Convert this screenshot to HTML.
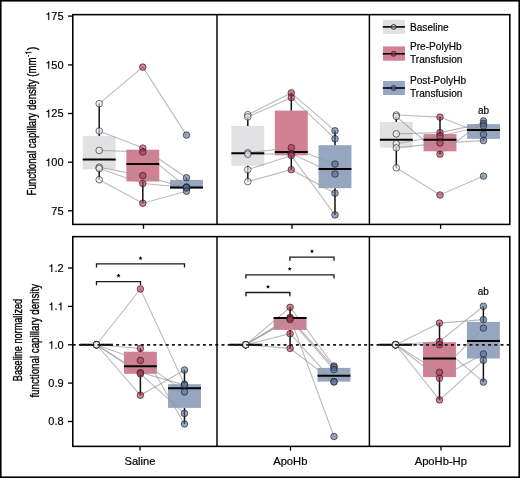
<!DOCTYPE html>
<html><head><meta charset="utf-8"><style>
html,body{margin:0;padding:0;background:#fff;width:520px;height:478px;overflow:hidden}
svg{will-change:transform}
svg text{font-family:"Liberation Sans", sans-serif;fill:#000;stroke:#000;stroke-width:0.18px}
</style></head><body>
<svg width="520" height="478" viewBox="0 0 520 478" style="position:absolute;left:0;top:0">
<rect x="0" y="0" width="520" height="478" fill="#fff"/>
<rect x="82.75" y="136.00" width="32.90" height="33.30" fill="#e1e1e3"/>
<rect x="126.35" y="149.70" width="32.90" height="31.80" fill="#d18193"/>
<rect x="170.05" y="179.90" width="32.90" height="8.70" fill="#97a6c0"/>
<polyline points="99.20,103.60 142.80,67.10 186.50,135.10" fill="none" stroke="rgba(150,150,150,0.65)" stroke-width="1.1"/>
<polyline points="99.20,131.00 142.80,148.10 186.50,177.80" fill="none" stroke="rgba(150,150,150,0.65)" stroke-width="1.1"/>
<polyline points="99.20,150.40 142.80,152.00 186.50,186.90" fill="none" stroke="rgba(150,150,150,0.65)" stroke-width="1.1"/>
<polyline points="99.20,167.20 142.80,175.60 186.50,188.00" fill="none" stroke="rgba(150,150,150,0.65)" stroke-width="1.1"/>
<polyline points="99.20,168.60 142.80,183.50 186.50,187.50" fill="none" stroke="rgba(150,150,150,0.65)" stroke-width="1.1"/>
<polyline points="99.20,179.70 142.80,203.20 186.50,191.20" fill="none" stroke="rgba(150,150,150,0.65)" stroke-width="1.1"/>
<line x1="99.20" y1="103.60" x2="99.20" y2="136.00" stroke="#111" stroke-width="1.5" />
<line x1="99.20" y1="169.30" x2="99.20" y2="179.70" stroke="#111" stroke-width="1.5" />
<line x1="142.80" y1="148.10" x2="142.80" y2="149.70" stroke="#111" stroke-width="1.5" />
<line x1="142.80" y1="181.50" x2="142.80" y2="202.70" stroke="#111" stroke-width="1.5" />
<line x1="186.50" y1="177.80" x2="186.50" y2="179.90" stroke="#111" stroke-width="1.5" />
<line x1="186.50" y1="188.60" x2="186.50" y2="191.20" stroke="#111" stroke-width="1.5" />
<rect x="231.35" y="125.90" width="32.90" height="39.90" fill="#e1e1e3"/>
<rect x="274.85" y="110.60" width="32.90" height="44.70" fill="#d18193"/>
<rect x="318.55" y="145.20" width="32.90" height="43.00" fill="#97a6c0"/>
<polyline points="247.80,114.70 291.30,92.90 335.00,130.80" fill="none" stroke="rgba(150,150,150,0.65)" stroke-width="1.1"/>
<polyline points="247.80,116.90 291.30,97.70 335.00,138.70" fill="none" stroke="rgba(150,150,150,0.65)" stroke-width="1.1"/>
<polyline points="247.80,152.80 291.30,147.70 335.00,164.10" fill="none" stroke="rgba(150,150,150,0.65)" stroke-width="1.1"/>
<polyline points="247.80,154.20 291.30,153.60 335.00,174.00" fill="none" stroke="rgba(150,150,150,0.65)" stroke-width="1.1"/>
<polyline points="247.80,169.70 291.30,155.60 335.00,214.90" fill="none" stroke="rgba(150,150,150,0.65)" stroke-width="1.1"/>
<polyline points="247.80,181.60 291.30,169.70 335.00,193.20" fill="none" stroke="rgba(150,150,150,0.65)" stroke-width="1.1"/>
<line x1="247.80" y1="114.70" x2="247.80" y2="125.90" stroke="#111" stroke-width="1.5" />
<line x1="247.80" y1="165.80" x2="247.80" y2="181.60" stroke="#111" stroke-width="1.5" />
<line x1="291.30" y1="92.90" x2="291.30" y2="110.60" stroke="#111" stroke-width="1.5" />
<line x1="291.30" y1="155.30" x2="291.30" y2="169.70" stroke="#111" stroke-width="1.5" />
<line x1="335.00" y1="130.80" x2="335.00" y2="145.20" stroke="#111" stroke-width="1.5" />
<line x1="335.00" y1="188.20" x2="335.00" y2="214.90" stroke="#111" stroke-width="1.5" />
<rect x="379.85" y="122.00" width="32.90" height="25.70" fill="#e1e1e3"/>
<rect x="423.55" y="134.10" width="32.90" height="17.20" fill="#d18193"/>
<rect x="467.05" y="124.10" width="32.90" height="14.80" fill="#97a6c0"/>
<polyline points="396.30,115.00 440.00,117.10 483.50,134.30" fill="none" stroke="rgba(150,150,150,0.65)" stroke-width="1.1"/>
<polyline points="396.30,116.50 440.00,154.20 483.50,120.90" fill="none" stroke="rgba(150,150,150,0.65)" stroke-width="1.1"/>
<polyline points="396.30,133.90 440.00,132.60 483.50,123.40" fill="none" stroke="rgba(150,150,150,0.65)" stroke-width="1.1"/>
<polyline points="396.30,143.70 440.00,136.00 483.50,126.00" fill="none" stroke="rgba(150,150,150,0.65)" stroke-width="1.1"/>
<polyline points="396.30,147.90 440.00,143.10 483.50,140.60" fill="none" stroke="rgba(150,150,150,0.65)" stroke-width="1.1"/>
<polyline points="396.30,167.80 440.00,195.00 483.50,176.10" fill="none" stroke="rgba(150,150,150,0.65)" stroke-width="1.1"/>
<line x1="396.30" y1="115.00" x2="396.30" y2="122.00" stroke="#111" stroke-width="1.5" />
<line x1="396.30" y1="147.70" x2="396.30" y2="167.80" stroke="#111" stroke-width="1.5" />
<line x1="440.00" y1="117.10" x2="440.00" y2="134.10" stroke="#111" stroke-width="1.5" />
<line x1="440.00" y1="151.30" x2="440.00" y2="154.40" stroke="#111" stroke-width="1.5" />
<line x1="483.50" y1="120.90" x2="483.50" y2="124.10" stroke="#111" stroke-width="1.5" />
<line x1="483.50" y1="138.90" x2="483.50" y2="140.60" stroke="#111" stroke-width="1.5" />
<rect x="123.95" y="351.70" width="32.90" height="22.10" fill="#d18193"/>
<rect x="168.05" y="384.20" width="32.90" height="23.70" fill="#97a6c0"/>
<polyline points="96.50,344.75 140.40,289.00 184.50,384.20" fill="none" stroke="rgba(150,150,150,0.65)" stroke-width="1.1"/>
<polyline points="96.50,344.75 140.40,348.40 184.50,424.00" fill="none" stroke="rgba(150,150,150,0.65)" stroke-width="1.1"/>
<polyline points="96.50,344.75 140.40,360.40 184.50,391.90" fill="none" stroke="rgba(150,150,150,0.65)" stroke-width="1.1"/>
<polyline points="96.50,344.75 140.40,372.60 184.50,384.90" fill="none" stroke="rgba(150,150,150,0.65)" stroke-width="1.1"/>
<polyline points="96.50,344.75 140.40,373.80 184.50,413.40" fill="none" stroke="rgba(150,150,150,0.65)" stroke-width="1.1"/>
<polyline points="96.50,344.75 140.40,395.20 184.50,370.00" fill="none" stroke="rgba(150,150,150,0.65)" stroke-width="1.1"/>
<line x1="140.40" y1="348.40" x2="140.40" y2="351.70" stroke="#111" stroke-width="1.5" />
<line x1="140.40" y1="373.80" x2="140.40" y2="395.20" stroke="#111" stroke-width="1.5" />
<line x1="184.50" y1="370.00" x2="184.50" y2="384.20" stroke="#111" stroke-width="1.5" />
<line x1="184.50" y1="407.90" x2="184.50" y2="424.00" stroke="#111" stroke-width="1.5" />
<rect x="273.65" y="317.60" width="32.90" height="12.30" fill="#d18193"/>
<rect x="317.55" y="367.90" width="32.90" height="13.70" fill="#97a6c0"/>
<polyline points="245.80,344.75 290.10,307.30 334.00,366.00" fill="none" stroke="rgba(150,150,150,0.65)" stroke-width="1.1"/>
<polyline points="245.80,344.75 290.10,317.40 334.00,436.50" fill="none" stroke="rgba(150,150,150,0.65)" stroke-width="1.1"/>
<polyline points="245.80,344.75 290.10,318.20 334.00,367.30" fill="none" stroke="rgba(150,150,150,0.65)" stroke-width="1.1"/>
<polyline points="245.80,344.75 290.10,319.50 334.00,369.70" fill="none" stroke="rgba(150,150,150,0.65)" stroke-width="1.1"/>
<polyline points="245.80,344.75 290.10,333.70 334.00,381.60" fill="none" stroke="rgba(150,150,150,0.65)" stroke-width="1.1"/>
<polyline points="245.80,344.75 290.10,348.40 334.00,382.00" fill="none" stroke="rgba(150,150,150,0.65)" stroke-width="1.1"/>
<line x1="290.10" y1="307.30" x2="290.10" y2="317.60" stroke="#111" stroke-width="1.5" />
<line x1="290.10" y1="329.90" x2="290.10" y2="348.40" stroke="#111" stroke-width="1.5" />
<line x1="334.00" y1="366.00" x2="334.00" y2="367.90" stroke="#111" stroke-width="1.5" />
<rect x="423.05" y="342.20" width="32.90" height="34.90" fill="#d18193"/>
<rect x="466.95" y="321.90" width="32.90" height="36.60" fill="#97a6c0"/>
<polyline points="395.60,344.75 439.50,323.10 483.40,319.60" fill="none" stroke="rgba(150,150,150,0.65)" stroke-width="1.1"/>
<polyline points="395.60,344.75 439.50,341.50 483.40,306.30" fill="none" stroke="rgba(150,150,150,0.65)" stroke-width="1.1"/>
<polyline points="395.60,344.75 439.50,344.60 483.40,382.10" fill="none" stroke="rgba(150,150,150,0.65)" stroke-width="1.1"/>
<polyline points="395.60,344.75 439.50,372.30 483.40,328.10" fill="none" stroke="rgba(150,150,150,0.65)" stroke-width="1.1"/>
<polyline points="395.60,344.75 439.50,378.30 483.40,354.00" fill="none" stroke="rgba(150,150,150,0.65)" stroke-width="1.1"/>
<polyline points="395.60,344.75 439.50,399.90 483.40,360.30" fill="none" stroke="rgba(150,150,150,0.65)" stroke-width="1.1"/>
<line x1="439.50" y1="323.10" x2="439.50" y2="342.20" stroke="#111" stroke-width="1.5" />
<line x1="439.50" y1="377.10" x2="439.50" y2="399.90" stroke="#111" stroke-width="1.5" />
<line x1="483.40" y1="306.30" x2="483.40" y2="321.90" stroke="#111" stroke-width="1.5" />
<line x1="483.40" y1="358.50" x2="483.40" y2="382.10" stroke="#111" stroke-width="1.5" />
<line x1="82.75" y1="159.40" x2="115.65" y2="159.40" stroke="#000" stroke-width="2.0" />
<line x1="126.35" y1="164.10" x2="159.25" y2="164.10" stroke="#000" stroke-width="2.0" />
<line x1="170.05" y1="187.40" x2="202.95" y2="187.40" stroke="#000" stroke-width="2.0" />
<line x1="231.35" y1="153.30" x2="264.25" y2="153.30" stroke="#000" stroke-width="2.0" />
<line x1="274.85" y1="152.10" x2="307.75" y2="152.10" stroke="#000" stroke-width="2.0" />
<line x1="318.55" y1="168.90" x2="351.45" y2="168.90" stroke="#000" stroke-width="2.0" />
<line x1="379.85" y1="139.70" x2="412.75" y2="139.70" stroke="#000" stroke-width="2.0" />
<line x1="423.55" y1="139.70" x2="456.45" y2="139.70" stroke="#000" stroke-width="2.0" />
<line x1="467.05" y1="130.10" x2="499.95" y2="130.10" stroke="#000" stroke-width="2.0" />
<line x1="80.05" y1="344.75" x2="112.95" y2="344.75" stroke="#000" stroke-width="2.0" />
<line x1="123.95" y1="366.30" x2="156.85" y2="366.30" stroke="#000" stroke-width="2.0" />
<line x1="168.05" y1="388.20" x2="200.95" y2="388.20" stroke="#000" stroke-width="2.0" />
<line x1="229.35" y1="344.75" x2="262.25" y2="344.75" stroke="#000" stroke-width="2.0" />
<line x1="273.65" y1="318.00" x2="306.55" y2="318.00" stroke="#000" stroke-width="2.0" />
<line x1="317.55" y1="375.80" x2="350.45" y2="375.80" stroke="#000" stroke-width="2.0" />
<line x1="379.15" y1="344.75" x2="412.05" y2="344.75" stroke="#000" stroke-width="2.0" />
<line x1="423.05" y1="358.50" x2="455.95" y2="358.50" stroke="#000" stroke-width="2.0" />
<line x1="466.95" y1="340.90" x2="499.85" y2="340.90" stroke="#000" stroke-width="2.0" />
<circle cx="99.20" cy="103.60" r="3.3" fill="rgba(238,238,238,0.6)" stroke="rgba(20,20,20,0.6)" stroke-width="1.0"/>
<circle cx="142.80" cy="67.10" r="3.3" fill="rgba(178,45,75,0.6)" stroke="rgba(20,20,20,0.6)" stroke-width="1.0"/>
<circle cx="186.50" cy="135.10" r="3.3" fill="rgba(82,107,152,0.6)" stroke="rgba(20,20,20,0.6)" stroke-width="1.0"/>
<circle cx="99.20" cy="131.00" r="3.3" fill="rgba(238,238,238,0.6)" stroke="rgba(20,20,20,0.6)" stroke-width="1.0"/>
<circle cx="142.80" cy="148.10" r="3.3" fill="rgba(178,45,75,0.6)" stroke="rgba(20,20,20,0.6)" stroke-width="1.0"/>
<circle cx="186.50" cy="177.80" r="3.3" fill="rgba(82,107,152,0.6)" stroke="rgba(20,20,20,0.6)" stroke-width="1.0"/>
<circle cx="99.20" cy="150.40" r="3.3" fill="rgba(238,238,238,0.6)" stroke="rgba(20,20,20,0.6)" stroke-width="1.0"/>
<circle cx="142.80" cy="152.00" r="3.3" fill="rgba(178,45,75,0.6)" stroke="rgba(20,20,20,0.6)" stroke-width="1.0"/>
<circle cx="186.50" cy="186.90" r="3.3" fill="rgba(82,107,152,0.6)" stroke="rgba(20,20,20,0.6)" stroke-width="1.0"/>
<circle cx="99.20" cy="167.20" r="3.3" fill="rgba(238,238,238,0.6)" stroke="rgba(20,20,20,0.6)" stroke-width="1.0"/>
<circle cx="142.80" cy="175.60" r="3.3" fill="rgba(178,45,75,0.6)" stroke="rgba(20,20,20,0.6)" stroke-width="1.0"/>
<circle cx="186.50" cy="188.00" r="3.3" fill="rgba(82,107,152,0.6)" stroke="rgba(20,20,20,0.6)" stroke-width="1.0"/>
<circle cx="99.20" cy="168.60" r="3.3" fill="rgba(238,238,238,0.6)" stroke="rgba(20,20,20,0.6)" stroke-width="1.0"/>
<circle cx="142.80" cy="183.50" r="3.3" fill="rgba(178,45,75,0.6)" stroke="rgba(20,20,20,0.6)" stroke-width="1.0"/>
<circle cx="186.50" cy="187.50" r="3.3" fill="rgba(82,107,152,0.6)" stroke="rgba(20,20,20,0.6)" stroke-width="1.0"/>
<circle cx="99.20" cy="179.70" r="3.3" fill="rgba(238,238,238,0.6)" stroke="rgba(20,20,20,0.6)" stroke-width="1.0"/>
<circle cx="142.80" cy="203.20" r="3.3" fill="rgba(178,45,75,0.6)" stroke="rgba(20,20,20,0.6)" stroke-width="1.0"/>
<circle cx="186.50" cy="191.20" r="3.3" fill="rgba(82,107,152,0.6)" stroke="rgba(20,20,20,0.6)" stroke-width="1.0"/>
<circle cx="247.80" cy="114.70" r="3.3" fill="rgba(238,238,238,0.6)" stroke="rgba(20,20,20,0.6)" stroke-width="1.0"/>
<circle cx="291.30" cy="92.90" r="3.3" fill="rgba(178,45,75,0.6)" stroke="rgba(20,20,20,0.6)" stroke-width="1.0"/>
<circle cx="335.00" cy="130.80" r="3.3" fill="rgba(82,107,152,0.6)" stroke="rgba(20,20,20,0.6)" stroke-width="1.0"/>
<circle cx="247.80" cy="116.90" r="3.3" fill="rgba(238,238,238,0.6)" stroke="rgba(20,20,20,0.6)" stroke-width="1.0"/>
<circle cx="291.30" cy="97.70" r="3.3" fill="rgba(178,45,75,0.6)" stroke="rgba(20,20,20,0.6)" stroke-width="1.0"/>
<circle cx="335.00" cy="138.70" r="3.3" fill="rgba(82,107,152,0.6)" stroke="rgba(20,20,20,0.6)" stroke-width="1.0"/>
<circle cx="247.80" cy="152.80" r="3.3" fill="rgba(238,238,238,0.6)" stroke="rgba(20,20,20,0.6)" stroke-width="1.0"/>
<circle cx="291.30" cy="147.70" r="3.3" fill="rgba(178,45,75,0.6)" stroke="rgba(20,20,20,0.6)" stroke-width="1.0"/>
<circle cx="335.00" cy="164.10" r="3.3" fill="rgba(82,107,152,0.6)" stroke="rgba(20,20,20,0.6)" stroke-width="1.0"/>
<circle cx="247.80" cy="154.20" r="3.3" fill="rgba(238,238,238,0.6)" stroke="rgba(20,20,20,0.6)" stroke-width="1.0"/>
<circle cx="291.30" cy="153.60" r="3.3" fill="rgba(178,45,75,0.6)" stroke="rgba(20,20,20,0.6)" stroke-width="1.0"/>
<circle cx="335.00" cy="174.00" r="3.3" fill="rgba(82,107,152,0.6)" stroke="rgba(20,20,20,0.6)" stroke-width="1.0"/>
<circle cx="247.80" cy="169.70" r="3.3" fill="rgba(238,238,238,0.6)" stroke="rgba(20,20,20,0.6)" stroke-width="1.0"/>
<circle cx="291.30" cy="155.60" r="3.3" fill="rgba(178,45,75,0.6)" stroke="rgba(20,20,20,0.6)" stroke-width="1.0"/>
<circle cx="335.00" cy="214.90" r="3.3" fill="rgba(82,107,152,0.6)" stroke="rgba(20,20,20,0.6)" stroke-width="1.0"/>
<circle cx="247.80" cy="181.60" r="3.3" fill="rgba(238,238,238,0.6)" stroke="rgba(20,20,20,0.6)" stroke-width="1.0"/>
<circle cx="291.30" cy="169.70" r="3.3" fill="rgba(178,45,75,0.6)" stroke="rgba(20,20,20,0.6)" stroke-width="1.0"/>
<circle cx="335.00" cy="193.20" r="3.3" fill="rgba(82,107,152,0.6)" stroke="rgba(20,20,20,0.6)" stroke-width="1.0"/>
<circle cx="396.30" cy="115.00" r="3.3" fill="rgba(238,238,238,0.6)" stroke="rgba(20,20,20,0.6)" stroke-width="1.0"/>
<circle cx="440.00" cy="117.10" r="3.3" fill="rgba(178,45,75,0.6)" stroke="rgba(20,20,20,0.6)" stroke-width="1.0"/>
<circle cx="483.50" cy="134.30" r="3.3" fill="rgba(82,107,152,0.6)" stroke="rgba(20,20,20,0.6)" stroke-width="1.0"/>
<circle cx="396.30" cy="116.50" r="3.3" fill="rgba(238,238,238,0.6)" stroke="rgba(20,20,20,0.6)" stroke-width="1.0"/>
<circle cx="440.00" cy="154.20" r="3.3" fill="rgba(178,45,75,0.6)" stroke="rgba(20,20,20,0.6)" stroke-width="1.0"/>
<circle cx="483.50" cy="120.90" r="3.3" fill="rgba(82,107,152,0.6)" stroke="rgba(20,20,20,0.6)" stroke-width="1.0"/>
<circle cx="396.30" cy="133.90" r="3.3" fill="rgba(238,238,238,0.6)" stroke="rgba(20,20,20,0.6)" stroke-width="1.0"/>
<circle cx="440.00" cy="132.60" r="3.3" fill="rgba(178,45,75,0.6)" stroke="rgba(20,20,20,0.6)" stroke-width="1.0"/>
<circle cx="483.50" cy="123.40" r="3.3" fill="rgba(82,107,152,0.6)" stroke="rgba(20,20,20,0.6)" stroke-width="1.0"/>
<circle cx="396.30" cy="143.70" r="3.3" fill="rgba(238,238,238,0.6)" stroke="rgba(20,20,20,0.6)" stroke-width="1.0"/>
<circle cx="440.00" cy="136.00" r="3.3" fill="rgba(178,45,75,0.6)" stroke="rgba(20,20,20,0.6)" stroke-width="1.0"/>
<circle cx="483.50" cy="126.00" r="3.3" fill="rgba(82,107,152,0.6)" stroke="rgba(20,20,20,0.6)" stroke-width="1.0"/>
<circle cx="396.30" cy="147.90" r="3.3" fill="rgba(238,238,238,0.6)" stroke="rgba(20,20,20,0.6)" stroke-width="1.0"/>
<circle cx="440.00" cy="143.10" r="3.3" fill="rgba(178,45,75,0.6)" stroke="rgba(20,20,20,0.6)" stroke-width="1.0"/>
<circle cx="483.50" cy="140.60" r="3.3" fill="rgba(82,107,152,0.6)" stroke="rgba(20,20,20,0.6)" stroke-width="1.0"/>
<circle cx="396.30" cy="167.80" r="3.3" fill="rgba(238,238,238,0.6)" stroke="rgba(20,20,20,0.6)" stroke-width="1.0"/>
<circle cx="440.00" cy="195.00" r="3.3" fill="rgba(178,45,75,0.6)" stroke="rgba(20,20,20,0.6)" stroke-width="1.0"/>
<circle cx="483.50" cy="176.10" r="3.3" fill="rgba(82,107,152,0.6)" stroke="rgba(20,20,20,0.6)" stroke-width="1.0"/>
<circle cx="96.50" cy="344.75" r="3.3" fill="rgba(238,238,238,0.6)" stroke="rgba(20,20,20,0.6)" stroke-width="1.0"/>
<circle cx="140.40" cy="289.00" r="3.3" fill="rgba(178,45,75,0.6)" stroke="rgba(20,20,20,0.6)" stroke-width="1.0"/>
<circle cx="184.50" cy="384.20" r="3.3" fill="rgba(82,107,152,0.6)" stroke="rgba(20,20,20,0.6)" stroke-width="1.0"/>
<circle cx="96.50" cy="344.75" r="3.3" fill="rgba(238,238,238,0.6)" stroke="rgba(20,20,20,0.6)" stroke-width="1.0"/>
<circle cx="140.40" cy="348.40" r="3.3" fill="rgba(178,45,75,0.6)" stroke="rgba(20,20,20,0.6)" stroke-width="1.0"/>
<circle cx="184.50" cy="424.00" r="3.3" fill="rgba(82,107,152,0.6)" stroke="rgba(20,20,20,0.6)" stroke-width="1.0"/>
<circle cx="96.50" cy="344.75" r="3.3" fill="rgba(238,238,238,0.6)" stroke="rgba(20,20,20,0.6)" stroke-width="1.0"/>
<circle cx="140.40" cy="360.40" r="3.3" fill="rgba(178,45,75,0.6)" stroke="rgba(20,20,20,0.6)" stroke-width="1.0"/>
<circle cx="184.50" cy="391.90" r="3.3" fill="rgba(82,107,152,0.6)" stroke="rgba(20,20,20,0.6)" stroke-width="1.0"/>
<circle cx="96.50" cy="344.75" r="3.3" fill="rgba(238,238,238,0.6)" stroke="rgba(20,20,20,0.6)" stroke-width="1.0"/>
<circle cx="140.40" cy="372.60" r="3.3" fill="rgba(178,45,75,0.6)" stroke="rgba(20,20,20,0.6)" stroke-width="1.0"/>
<circle cx="184.50" cy="384.90" r="3.3" fill="rgba(82,107,152,0.6)" stroke="rgba(20,20,20,0.6)" stroke-width="1.0"/>
<circle cx="96.50" cy="344.75" r="3.3" fill="rgba(238,238,238,0.6)" stroke="rgba(20,20,20,0.6)" stroke-width="1.0"/>
<circle cx="140.40" cy="373.80" r="3.3" fill="rgba(178,45,75,0.6)" stroke="rgba(20,20,20,0.6)" stroke-width="1.0"/>
<circle cx="184.50" cy="413.40" r="3.3" fill="rgba(82,107,152,0.6)" stroke="rgba(20,20,20,0.6)" stroke-width="1.0"/>
<circle cx="96.50" cy="344.75" r="3.3" fill="rgba(238,238,238,0.6)" stroke="rgba(20,20,20,0.6)" stroke-width="1.0"/>
<circle cx="140.40" cy="395.20" r="3.3" fill="rgba(178,45,75,0.6)" stroke="rgba(20,20,20,0.6)" stroke-width="1.0"/>
<circle cx="184.50" cy="370.00" r="3.3" fill="rgba(82,107,152,0.6)" stroke="rgba(20,20,20,0.6)" stroke-width="1.0"/>
<circle cx="245.80" cy="344.75" r="3.3" fill="rgba(238,238,238,0.6)" stroke="rgba(20,20,20,0.6)" stroke-width="1.0"/>
<circle cx="290.10" cy="307.30" r="3.3" fill="rgba(178,45,75,0.6)" stroke="rgba(20,20,20,0.6)" stroke-width="1.0"/>
<circle cx="334.00" cy="366.00" r="3.3" fill="rgba(82,107,152,0.6)" stroke="rgba(20,20,20,0.6)" stroke-width="1.0"/>
<circle cx="245.80" cy="344.75" r="3.3" fill="rgba(238,238,238,0.6)" stroke="rgba(20,20,20,0.6)" stroke-width="1.0"/>
<circle cx="290.10" cy="317.40" r="3.3" fill="rgba(178,45,75,0.6)" stroke="rgba(20,20,20,0.6)" stroke-width="1.0"/>
<circle cx="334.00" cy="436.50" r="3.3" fill="rgba(82,107,152,0.6)" stroke="rgba(20,20,20,0.6)" stroke-width="1.0"/>
<circle cx="245.80" cy="344.75" r="3.3" fill="rgba(238,238,238,0.6)" stroke="rgba(20,20,20,0.6)" stroke-width="1.0"/>
<circle cx="290.10" cy="318.20" r="3.3" fill="rgba(178,45,75,0.6)" stroke="rgba(20,20,20,0.6)" stroke-width="1.0"/>
<circle cx="334.00" cy="367.30" r="3.3" fill="rgba(82,107,152,0.6)" stroke="rgba(20,20,20,0.6)" stroke-width="1.0"/>
<circle cx="245.80" cy="344.75" r="3.3" fill="rgba(238,238,238,0.6)" stroke="rgba(20,20,20,0.6)" stroke-width="1.0"/>
<circle cx="290.10" cy="319.50" r="3.3" fill="rgba(178,45,75,0.6)" stroke="rgba(20,20,20,0.6)" stroke-width="1.0"/>
<circle cx="334.00" cy="369.70" r="3.3" fill="rgba(82,107,152,0.6)" stroke="rgba(20,20,20,0.6)" stroke-width="1.0"/>
<circle cx="245.80" cy="344.75" r="3.3" fill="rgba(238,238,238,0.6)" stroke="rgba(20,20,20,0.6)" stroke-width="1.0"/>
<circle cx="290.10" cy="333.70" r="3.3" fill="rgba(178,45,75,0.6)" stroke="rgba(20,20,20,0.6)" stroke-width="1.0"/>
<circle cx="334.00" cy="381.60" r="3.3" fill="rgba(82,107,152,0.6)" stroke="rgba(20,20,20,0.6)" stroke-width="1.0"/>
<circle cx="245.80" cy="344.75" r="3.3" fill="rgba(238,238,238,0.6)" stroke="rgba(20,20,20,0.6)" stroke-width="1.0"/>
<circle cx="290.10" cy="348.40" r="3.3" fill="rgba(178,45,75,0.6)" stroke="rgba(20,20,20,0.6)" stroke-width="1.0"/>
<circle cx="334.00" cy="382.00" r="3.3" fill="rgba(82,107,152,0.6)" stroke="rgba(20,20,20,0.6)" stroke-width="1.0"/>
<circle cx="395.60" cy="344.75" r="3.3" fill="rgba(238,238,238,0.6)" stroke="rgba(20,20,20,0.6)" stroke-width="1.0"/>
<circle cx="439.50" cy="323.10" r="3.3" fill="rgba(178,45,75,0.6)" stroke="rgba(20,20,20,0.6)" stroke-width="1.0"/>
<circle cx="483.40" cy="319.60" r="3.3" fill="rgba(82,107,152,0.6)" stroke="rgba(20,20,20,0.6)" stroke-width="1.0"/>
<circle cx="395.60" cy="344.75" r="3.3" fill="rgba(238,238,238,0.6)" stroke="rgba(20,20,20,0.6)" stroke-width="1.0"/>
<circle cx="439.50" cy="341.50" r="3.3" fill="rgba(178,45,75,0.6)" stroke="rgba(20,20,20,0.6)" stroke-width="1.0"/>
<circle cx="483.40" cy="306.30" r="3.3" fill="rgba(82,107,152,0.6)" stroke="rgba(20,20,20,0.6)" stroke-width="1.0"/>
<circle cx="395.60" cy="344.75" r="3.3" fill="rgba(238,238,238,0.6)" stroke="rgba(20,20,20,0.6)" stroke-width="1.0"/>
<circle cx="439.50" cy="344.60" r="3.3" fill="rgba(178,45,75,0.6)" stroke="rgba(20,20,20,0.6)" stroke-width="1.0"/>
<circle cx="483.40" cy="382.10" r="3.3" fill="rgba(82,107,152,0.6)" stroke="rgba(20,20,20,0.6)" stroke-width="1.0"/>
<circle cx="395.60" cy="344.75" r="3.3" fill="rgba(238,238,238,0.6)" stroke="rgba(20,20,20,0.6)" stroke-width="1.0"/>
<circle cx="439.50" cy="372.30" r="3.3" fill="rgba(178,45,75,0.6)" stroke="rgba(20,20,20,0.6)" stroke-width="1.0"/>
<circle cx="483.40" cy="328.10" r="3.3" fill="rgba(82,107,152,0.6)" stroke="rgba(20,20,20,0.6)" stroke-width="1.0"/>
<circle cx="395.60" cy="344.75" r="3.3" fill="rgba(238,238,238,0.6)" stroke="rgba(20,20,20,0.6)" stroke-width="1.0"/>
<circle cx="439.50" cy="378.30" r="3.3" fill="rgba(178,45,75,0.6)" stroke="rgba(20,20,20,0.6)" stroke-width="1.0"/>
<circle cx="483.40" cy="354.00" r="3.3" fill="rgba(82,107,152,0.6)" stroke="rgba(20,20,20,0.6)" stroke-width="1.0"/>
<circle cx="395.60" cy="344.75" r="3.3" fill="rgba(238,238,238,0.6)" stroke="rgba(20,20,20,0.6)" stroke-width="1.0"/>
<circle cx="439.50" cy="399.90" r="3.3" fill="rgba(178,45,75,0.6)" stroke="rgba(20,20,20,0.6)" stroke-width="1.0"/>
<circle cx="483.40" cy="360.30" r="3.3" fill="rgba(82,107,152,0.6)" stroke="rgba(20,20,20,0.6)" stroke-width="1.0"/>
<line x1="72.78" y1="344.95" x2="509.80" y2="344.95" stroke="#1a1a1a" stroke-width="1.7" stroke-dasharray="3 3.2" stroke-dashoffset="0.08"/>
<rect x="72.78" y="14.64" width="437.02" height="209.76" fill="none" stroke="#000" stroke-width="1.55"/>
<rect x="72.78" y="236.65" width="437.02" height="209.72" fill="none" stroke="#000" stroke-width="1.55"/>
<line x1="217.00" y1="14.64" x2="217.00" y2="224.40" stroke="#000" stroke-width="1.46" />
<line x1="369.40" y1="14.64" x2="369.40" y2="224.40" stroke="#000" stroke-width="1.46" />
<line x1="217.00" y1="236.65" x2="217.00" y2="446.37" stroke="#000" stroke-width="1.46" />
<line x1="369.40" y1="236.65" x2="369.40" y2="446.37" stroke="#000" stroke-width="1.46" />
<line x1="68.00" y1="16.10" x2="72.78" y2="16.10" stroke="#000" stroke-width="1.3" />
<path d="M359,703 L294,703 C282,640 240,566 101,560 L101,500 L275,500 L275,0 L359,0 Z" transform="translate(45.25,20.05) scale(0.0110,-0.0110)" fill="#000" stroke="#000" stroke-width="16.4"/>
<text x="51.36" y="20.05" font-size="11" text-anchor="start" >7</text>
<text x="57.48" y="20.05" font-size="11" text-anchor="start" >5</text>
<line x1="68.00" y1="64.90" x2="72.78" y2="64.90" stroke="#000" stroke-width="1.3" />
<path d="M359,703 L294,703 C282,640 240,566 101,560 L101,500 L275,500 L275,0 L359,0 Z" transform="translate(45.25,68.85) scale(0.0110,-0.0110)" fill="#000" stroke="#000" stroke-width="16.4"/>
<text x="51.36" y="68.85" font-size="11" text-anchor="start" >5</text>
<text x="57.48" y="68.85" font-size="11" text-anchor="start" >0</text>
<line x1="68.00" y1="113.50" x2="72.78" y2="113.50" stroke="#000" stroke-width="1.3" />
<path d="M359,703 L294,703 C282,640 240,566 101,560 L101,500 L275,500 L275,0 L359,0 Z" transform="translate(45.25,117.45) scale(0.0110,-0.0110)" fill="#000" stroke="#000" stroke-width="16.4"/>
<text x="51.36" y="117.45" font-size="11" text-anchor="start" >2</text>
<text x="57.48" y="117.45" font-size="11" text-anchor="start" >5</text>
<line x1="68.00" y1="162.20" x2="72.78" y2="162.20" stroke="#000" stroke-width="1.3" />
<path d="M359,703 L294,703 C282,640 240,566 101,560 L101,500 L275,500 L275,0 L359,0 Z" transform="translate(45.25,166.15) scale(0.0110,-0.0110)" fill="#000" stroke="#000" stroke-width="16.4"/>
<text x="51.36" y="166.15" font-size="11" text-anchor="start" >0</text>
<text x="57.48" y="166.15" font-size="11" text-anchor="start" >0</text>
<line x1="68.00" y1="210.80" x2="72.78" y2="210.80" stroke="#000" stroke-width="1.3" />
<text x="51.36" y="214.75" font-size="11" text-anchor="start" >7</text>
<text x="57.48" y="214.75" font-size="11" text-anchor="start" >5</text>
<line x1="68.00" y1="268.00" x2="72.78" y2="268.00" stroke="#000" stroke-width="1.3" />
<path d="M359,703 L294,703 C282,640 240,566 101,560 L101,500 L275,500 L275,0 L359,0 Z" transform="translate(48.31,271.95) scale(0.0110,-0.0110)" fill="#000" stroke="#000" stroke-width="16.4"/>
<text x="54.43" y="271.95" font-size="11" text-anchor="start" >.</text>
<text x="57.48" y="271.95" font-size="11" text-anchor="start" >2</text>
<line x1="68.00" y1="306.40" x2="72.78" y2="306.40" stroke="#000" stroke-width="1.3" />
<path d="M359,703 L294,703 C282,640 240,566 101,560 L101,500 L275,500 L275,0 L359,0 Z" transform="translate(48.31,310.35) scale(0.0110,-0.0110)" fill="#000" stroke="#000" stroke-width="16.4"/>
<text x="54.43" y="310.35" font-size="11" text-anchor="start" >.</text>
<path d="M359,703 L294,703 C282,640 240,566 101,560 L101,500 L275,500 L275,0 L359,0 Z" transform="translate(57.48,310.35) scale(0.0110,-0.0110)" fill="#000" stroke="#000" stroke-width="16.4"/>
<line x1="68.00" y1="344.80" x2="72.78" y2="344.80" stroke="#000" stroke-width="1.3" />
<path d="M359,703 L294,703 C282,640 240,566 101,560 L101,500 L275,500 L275,0 L359,0 Z" transform="translate(48.31,348.75) scale(0.0110,-0.0110)" fill="#000" stroke="#000" stroke-width="16.4"/>
<text x="54.43" y="348.75" font-size="11" text-anchor="start" >.</text>
<text x="57.48" y="348.75" font-size="11" text-anchor="start" >0</text>
<line x1="68.00" y1="383.10" x2="72.78" y2="383.10" stroke="#000" stroke-width="1.3" />
<text x="48.31" y="387.05" font-size="11" text-anchor="start" >0</text>
<text x="54.43" y="387.05" font-size="11" text-anchor="start" >.</text>
<text x="57.48" y="387.05" font-size="11" text-anchor="start" >9</text>
<line x1="68.00" y1="421.50" x2="72.78" y2="421.50" stroke="#000" stroke-width="1.3" />
<text x="48.31" y="425.45" font-size="11" text-anchor="start" >0</text>
<text x="54.43" y="425.45" font-size="11" text-anchor="start" >.</text>
<text x="57.48" y="425.45" font-size="11" text-anchor="start" >8</text>
<line x1="143.50" y1="224.40" x2="143.50" y2="228.80" stroke="#000" stroke-width="1.3" />
<line x1="292.00" y1="224.40" x2="292.00" y2="228.80" stroke="#000" stroke-width="1.3" />
<line x1="440.60" y1="224.40" x2="440.60" y2="228.80" stroke="#000" stroke-width="1.3" />
<line x1="140.00" y1="446.37" x2="140.00" y2="450.60" stroke="#000" stroke-width="1.3" />
<line x1="290.50" y1="446.37" x2="290.50" y2="450.60" stroke="#000" stroke-width="1.3" />
<line x1="441.00" y1="446.37" x2="441.00" y2="450.60" stroke="#000" stroke-width="1.3" />
<text x="140.00" y="465.00" font-size="11.2" text-anchor="middle" >Saline</text>
<text x="290.30" y="465.00" font-size="11.2" text-anchor="middle" >ApoHb</text>
<text x="440.80" y="465.00" font-size="11.2" text-anchor="middle" >ApoHb-Hp</text>
<g transform="translate(35.7,195.5) rotate(-90)" stroke="#000" stroke-width="0.35"><text x="0" y="0" font-size="13.0" style="stroke-width:0.35px" textLength="138" lengthAdjust="spacingAndGlyphs">Functional capillary density (mm</text><g transform="translate(138.6,-4.4) scale(0.8,1)"><text x="0" y="0" font-size="8.5">-</text><path d="M359,703 L294,703 C282,640 240,566 101,560 L101,500 L275,500 L275,0 L359,0 Z" transform="translate(2.83,0) scale(0.0085,-0.0085)" fill="#000" stroke="#000" stroke-width="50"/></g><text x="145.3" y="0" font-size="13.0" style="stroke-width:0.35px" textLength="3.6" lengthAdjust="spacingAndGlyphs">)</text></g>
<g transform="translate(22.1,381.2) rotate(-90)" stroke="#000" stroke-width="0.35"><text x="0" y="0" font-size="13.0" style="stroke-width:0.35px" textLength="82.4" lengthAdjust="spacingAndGlyphs">Baseline normalized</text></g>
<g transform="translate(39.4,397.6) rotate(-90)" stroke="#000" stroke-width="0.35"><text x="0" y="0" font-size="13.0" style="stroke-width:0.35px" textLength="113.7" lengthAdjust="spacingAndGlyphs">functional capillary density</text></g>
<polyline points="96.50,267.40 96.50,263.90 184.50,263.90 184.50,267.40" fill="none" stroke="#1a1a1a" stroke-width="1.35"/>
<polygon points="140.50,256.00 141.06,257.43 142.59,257.52 141.40,258.49 141.79,259.98 140.50,259.15 139.21,259.98 139.60,258.49 138.41,257.52 139.94,257.43" fill="#000"/>
<polyline points="96.50,285.30 96.50,281.60 140.50,281.60 140.50,285.30" fill="none" stroke="#1a1a1a" stroke-width="1.35"/>
<polygon points="118.50,273.40 119.06,274.83 120.59,274.92 119.40,275.89 119.79,277.38 118.50,276.55 117.21,277.38 117.60,275.89 116.41,274.92 117.94,274.83" fill="#000"/>
<polyline points="289.90,260.80 289.90,257.10 334.00,257.10 334.00,260.80" fill="none" stroke="#1a1a1a" stroke-width="1.35"/>
<polygon points="312.00,249.00 312.56,250.43 314.09,250.52 312.90,251.49 313.29,252.98 312.00,252.15 310.71,252.98 311.10,251.49 309.91,250.52 311.44,250.43" fill="#000"/>
<polyline points="245.90,278.40 245.90,274.80 334.00,274.80 334.00,278.40" fill="none" stroke="#1a1a1a" stroke-width="1.35"/>
<polygon points="289.70,266.70 290.26,268.13 291.79,268.22 290.60,269.19 290.99,270.68 289.70,269.85 288.41,270.68 288.80,269.19 287.61,268.22 289.14,268.13" fill="#000"/>
<polyline points="246.00,296.30 246.00,292.50 289.90,292.50 289.90,296.30" fill="none" stroke="#1a1a1a" stroke-width="1.35"/>
<polygon points="268.00,284.50 268.56,285.93 270.09,286.02 268.90,286.99 269.29,288.48 268.00,287.65 266.71,288.48 267.10,286.99 265.91,286.02 267.44,285.93" fill="#000"/>
<text x="483.50" y="113.60" font-size="10" text-anchor="middle" >ab</text>
<text x="483.30" y="295.30" font-size="10" text-anchor="middle" >ab</text>
<rect x="383.00" y="19.80" width="21.90" height="14.10" fill="#e1e1e3"/>
<rect x="383.00" y="46.40" width="21.90" height="14.30" fill="#d18193"/>
<rect x="383.00" y="81.00" width="21.90" height="14.00" fill="#97a6c0"/>
<line x1="382.80" y1="26.90" x2="404.90" y2="26.90" stroke="#000" stroke-width="1.6" />
<circle cx="393.7" cy="26.9" r="2.5" fill="rgba(150,150,150,0.6)" stroke="rgba(20,20,20,0.75)" stroke-width="0.9"/>
<line x1="382.80" y1="53.80" x2="404.90" y2="53.80" stroke="#000" stroke-width="1.6" />
<circle cx="393.7" cy="53.8" r="2.5" fill="rgba(178,45,75,0.6)" stroke="rgba(20,20,20,0.75)" stroke-width="0.9"/>
<line x1="382.80" y1="88.00" x2="404.90" y2="88.00" stroke="#000" stroke-width="1.6" />
<circle cx="393.7" cy="88.0" r="2.5" fill="rgba(82,107,152,0.6)" stroke="rgba(20,20,20,0.75)" stroke-width="0.9"/>
<text x="410.00" y="30.50" font-size="10.1" text-anchor="start" >Baseline</text>
<text x="410.00" y="49.80" font-size="10.1" text-anchor="start" >Pre-PolyHb</text>
<text x="410.00" y="63.20" font-size="10.1" text-anchor="start" >Transfusion</text>
<text x="410.00" y="84.10" font-size="10.1" text-anchor="start" >Post-PolyHb</text>
<text x="410.00" y="97.20" font-size="10.1" text-anchor="start" >Transfusion</text>
<rect x="0.79" y="0.79" width="518.42" height="476.42" fill="none" stroke="#000" stroke-width="1.58"/>
</svg>
</body></html>
